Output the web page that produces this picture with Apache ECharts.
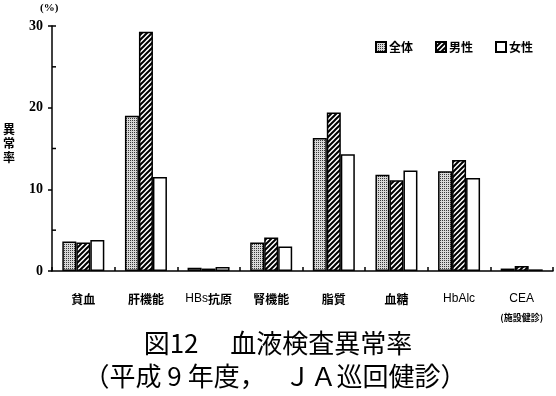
<!DOCTYPE html>
<html><head><meta charset="utf-8">
<script src="https://cdn.jsdelivr.net/npm/echarts@6/dist/echarts.min.js"></script>
<style>html,body{margin:0;padding:0;background:#fff}#c{width:556px;height:396px}</style>
</head><body><div id="c"></div>
<script>
const categories = ['貧血','肝機能','HBs抗原','腎機能','脂質','血糖','HbAlc','CEA'];
const seriesNames = ['全体','男性','女性'];
const allValues = [3.6, 19.0, 0.4, 3.5, 16.3, 11.8, 12.2, 0.3];
const maleValues = [3.5, 29.3, 0.3, 4.1, 19.4, 11.1, 13.6, 0.6];
const femaleValues = [3.8, 11.5, 0.5, 3.0, 14.3, 12.3, 11.4, 0.2];
const yTicks = [0, 10, 20, 30];
const yMinorTicks = [5, 15, 25, 30];
const titleLine1 = '図12\u3000 血液検査異常率';
const titleLine2 = '（平成 9 年度，\u3000 ＪＡ巡回健診）';
const ceaNote = '(施設健診)';

function dotPattern(){
  const c = document.createElement('canvas'); c.width = 2; c.height = 2;
  const g = c.getContext('2d');
  g.fillStyle = '#d8d8d8'; g.fillRect(0,0,2,2);
  g.fillStyle = '#3a3a3a';
  g.fillRect(0,0,1,1);
  return c;
}
function hatchPattern(){
  const s = 5;
  const c = document.createElement('canvas'); c.width = s; c.height = s;
  const g = c.getContext('2d');
  g.fillStyle = '#fff'; g.fillRect(0,0,s,s);
  g.strokeStyle = '#000'; g.lineWidth = 2;
  g.beginPath();
  g.moveTo(-1, s+1); g.lineTo(s+1, -1);
  g.moveTo(-1, 1); g.lineTo(1, -1);
  g.moveTo(s-1, s+1); g.lineTo(s+1, s-1);
  g.stroke();
  return c;
}
const fills = [
  {image: dotPattern(), repeat: 'repeat'},
  {image: hatchPattern(), repeat: 'repeat'},
  '#ffffff'
];
const values = [allValues, maleValues, femaleValues];

const chart = echarts.init(document.getElementById('c'), null, {renderer: 'canvas'});
const cjk = '"Noto Sans CJK JP", sans-serif';
const series = seriesNames.map((n, i) => ({
  name: n, type: 'bar', data: values[i], barWidth: 14, barGap: '0%',
  itemStyle: {color: fills[i], borderColor: '#000', borderWidth: 1.5}
}));
// inward minor ticks on the y axis, placed through the axis scale
series.push({
  type: 'custom', silent: true, z: 5,
  data: yMinorTicks.map(v => [0, v]),
  renderItem: function(params, api){
    const p = api.coord([api.value(0), api.value(1)]);
    const x0 = params.coordSys.x;
    return {type: 'line', shape: {x1: x0, y1: p[1], x2: x0 + 4, y2: p[1]},
            style: {stroke: '#000', lineWidth: 1.5}};
  }
});
chart.setOption({
  animation: false,
  backgroundColor: '#fff',
  grid: {left: 52, right: 3, top: 26, bottom: 125, containLabel: false},
  legend: {
    left: 370, top: 36, itemWidth: 10, itemHeight: 10, itemGap: 22, icon: 'rect',
    textStyle: {fontFamily: cjk, fontWeight: 'bold', fontSize: 12, color: '#000', padding: [0,0,0,-2]},
    data: seriesNames
  },
  xAxis: {
    type: 'category', data: categories,
    axisLine: {lineStyle: {color: '#000', width: 1.5}},
    axisTick: {show: true, inside: true, length: 4, lineStyle: {color: '#000', width: 1.5}},
    axisLabel: {
      margin: 20, interval: 0, color: '#000',
      formatter: function(v){
        let out = '';
        const parts = v.match(/[A-Za-z0-9]+|[^A-Za-z0-9]+/g);
        parts.forEach(p => { out += /[A-Za-z0-9]/.test(p) ? '{l|' + p + '}' : '{c|' + p + '}'; });
        if (v === 'CEA') out += '\n{s|' + ceaNote + '}';
        return out;
      },
      rich: {
        c: {fontFamily: cjk, fontWeight: 'bold', fontSize: 12, color: '#000', lineHeight: 16},
        l: {fontFamily: 'Liberation Sans, Arial, sans-serif', fontSize: 12, color: '#000', lineHeight: 16},
        s: {fontFamily: cjk, fontWeight: 'bold', fontSize: 9, color: '#000', lineHeight: 22}
      }
    }
  },
  yAxis: {
    type: 'value', min: yTicks[0], max: yTicks[yTicks.length-1], interval: 10,
    axisLine: {show: true, lineStyle: {color: '#000', width: 1.5}},
    axisTick: {show: true, length: 4, lineStyle: {color: '#000', width: 1.5}},
    splitLine: {show: false},
    axisLabel: {margin: 9, color: '#000', fontFamily: 'Liberation Serif, serif', fontWeight: 'bold', fontSize: 14}
  },
  series: series,
  graphic: [
    {type: 'text', left: 40, top: 3, style: {text: '(%)', font: 'bold 11px "Liberation Serif", serif', fill: '#000'}},
    {type: 'text', left: 3, top: 122, style: {text: '異\n常\n率', font: 'bold 12px ' + cjk, fill: '#000', lineHeight: 14}},
    {type: 'text', x: 278, y: 343, style: {text: titleLine1, font: '26px ' + cjk, fill: '#000', align: 'center', verticalAlign: 'middle'}},
    {type: 'text', x: 275, y: 376, style: {text: titleLine2, font: '26px ' + cjk, fill: '#000', align: 'center', verticalAlign: 'middle'}}
  ]
});
</script></body></html>
